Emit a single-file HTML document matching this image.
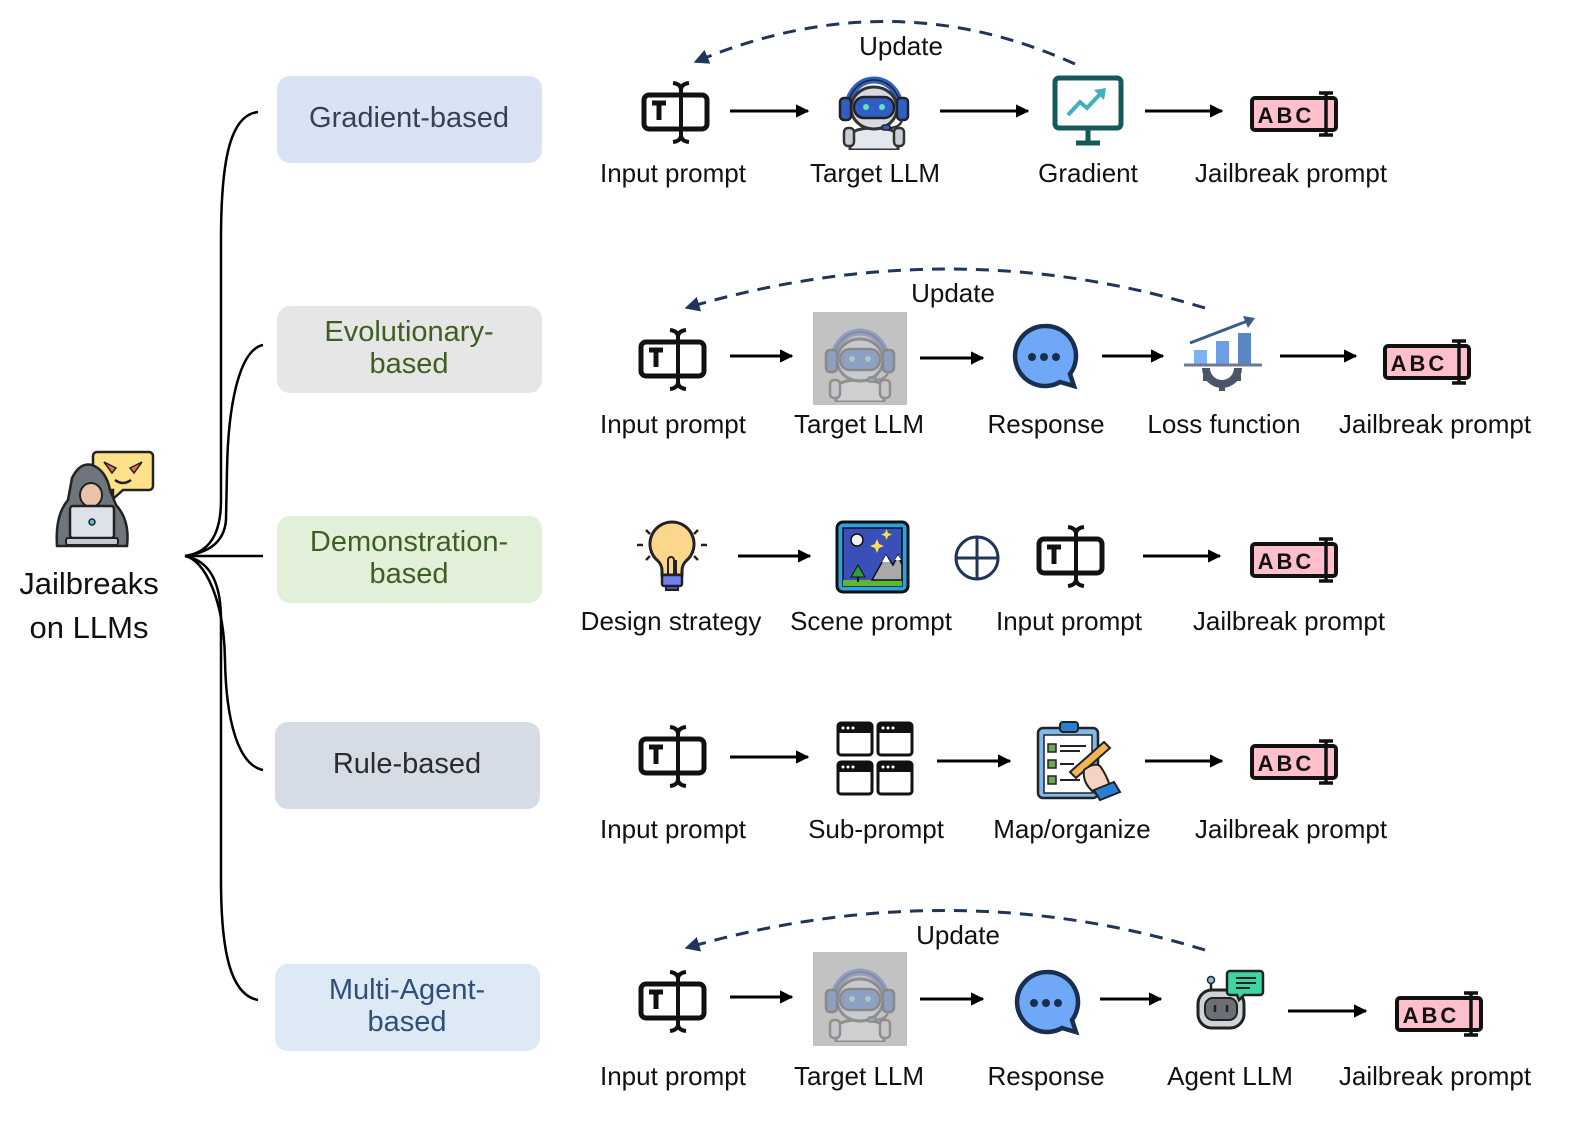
<!DOCTYPE html>
<html><head><meta charset="utf-8"><style>
html,body{margin:0;padding:0;background:#fff}
svg{display:block}
text{font-family:"Liberation Sans",sans-serif}
</style></head><body>
<svg width="1577" height="1122" viewBox="0 0 1577 1122" xmlns="http://www.w3.org/2000/svg">
<defs>
<marker id="ah" viewBox="0 0 10 10" refX="9" refY="5" markerWidth="4.5" markerHeight="4.5" orient="auto"><path d="M0,0 L10,5 L0,10 z" fill="#000"/></marker>
<marker id="dh" viewBox="0 0 10 10" refX="9" refY="5" markerWidth="5" markerHeight="5" orient="auto"><path d="M0,0 L10,5 L0,10 z" fill="#1f3559"/></marker>
<symbol id="inp" viewBox="0 0 70 66">
<rect x="3" y="16" width="63" height="34" rx="5" fill="#fff" stroke="#111" stroke-width="5"/>
<path d="M11,24 h14 M18,24 v17" stroke="#111" stroke-width="5" fill="none"/>
<path d="M40,9 V58 M32,4 Q40,5 40,11 Q40,5 48,4 M32,63 Q40,62 40,56 Q40,62 48,63" stroke="#111" stroke-width="4" fill="none"/>
</symbol>
<symbol id="bot" viewBox="0 0 76 84">
<path d="M12,42 A26,28 0 0 1 64,42" stroke="#2f5fc4" stroke-width="7" fill="none"/>
<path d="M12,42 A26,28 0 0 1 64,42" stroke="#222" stroke-width="1.5" fill="none"/>
<path d="M14,84 V72 Q14,62 38,62 Q62,62 62,72 V84 z" fill="#e3e7ee" stroke="#333" stroke-width="3"/>
<rect x="8" y="62" width="10" height="18" rx="4" fill="#c9ced6" stroke="#333" stroke-width="2.5"/>
<rect x="58" y="62" width="10" height="18" rx="4" fill="#c9ced6" stroke="#333" stroke-width="2.5"/>
<ellipse cx="38" cy="42" rx="23" ry="21" fill="#d6dbe3" stroke="#333" stroke-width="3"/>
<rect x="18" y="31" width="40" height="21" rx="10" fill="#2f5fc4" stroke="#222" stroke-width="2.5"/>
<circle cx="30" cy="41" r="3" fill="#5fe3c2"/><circle cx="46" cy="41" r="3" fill="#5fe3c2"/>
<rect x="4" y="32" width="11" height="22" rx="4" fill="#2f5fc4" stroke="#222" stroke-width="2.5"/>
<rect x="61" y="32" width="11" height="22" rx="4" fill="#2f5fc4" stroke="#222" stroke-width="2.5"/>
<path d="M66,54 Q64,62 52,62" stroke="#333" stroke-width="2.5" fill="none"/>
<rect x="46" y="59" width="8" height="5" rx="2" fill="#2f5fc4" stroke="#222" stroke-width="1.5"/>
</symbol>
<symbol id="bub" viewBox="0 0 70 70">
<path d="M35,4 A30,30 0 1 0 50,60 L64,64 L60,52 A30,30 0 0 0 35,4 z" fill="#6ea8f7" stroke="#1a2e4f" stroke-width="4.5"/>
<circle cx="22" cy="35" r="4" fill="#1a2e4f"/><circle cx="34" cy="35" r="4" fill="#1a2e4f"/><circle cx="46" cy="35" r="4" fill="#1a2e4f"/>
</symbol>
</defs>

<g>
<path d="M97,452 h52 a4,4 0 0 1 4,4 v30 a4,4 0 0 1 -4,4 h-26 l-10,9 v-9 h-16 a4,4 0 0 1 -4,-4 v-30 a4,4 0 0 1 4,-4z" fill="#fde28a" stroke="#222" stroke-width="2.5"/>
<path d="M104,462 l12,6 -4,5z M142,462 l-12,6 4,5z" fill="#f06b5c" stroke="#222" stroke-width="1.5"/>
<path d="M115,480 q8,6 16,0" stroke="#222" stroke-width="2.5" fill="none"/>
<path d="M57,546 Q55,515 68,500 L72,478 Q80,462 92,465 Q106,470 110,490 L116,505 Q130,520 127,546 z" fill="#6f757d" stroke="#222" stroke-width="2.5"/>
<ellipse cx="91" cy="495" rx="11" ry="12" fill="#e8c3a8" stroke="#222" stroke-width="2"/>
<rect x="70" y="506" width="44" height="32" rx="3" fill="#dde2ea" stroke="#222" stroke-width="2.5"/>
<circle cx="92" cy="522" r="3" fill="#4cc3e6" stroke="#222" stroke-width="1.5"/>
<rect x="66" y="538" width="52" height="7" rx="2" fill="#c5cad2" stroke="#222" stroke-width="2"/>
</g>
<text x="89" y="594" font-size="31" text-anchor="middle" fill="#111">Jailbreaks</text>
<text x="89" y="638" font-size="31" text-anchor="middle" fill="#111">on LLMs</text>

<g stroke="#000" stroke-width="2.5" fill="none">
<path d="M258,112 C230,115 221,160 221,240 L221,500 C221,540 205,553 185,556"/>
<path d="M263,345 C238,350 228,410 227,470 L226,520 C224,545 205,553 185,556"/>
<path d="M185,556 L263,556"/>
<path d="M263,770 C238,765 226,720 225,660 C224,600 205,560 185,556"/>
<path d="M258,1000 C230,995 221,950 221,880 L221,620 C221,575 205,560 185,556"/>
</g>

<rect x="277" y="76" width="265" height="87" rx="13" fill="#dae3f3"/>
<text x="409" y="127" font-size="29" text-anchor="middle" fill="#344252">Gradient-based</text>
<rect x="277" y="306" width="265" height="87" rx="13" fill="#e6e6e6"/>
<text x="409" y="341" font-size="29" text-anchor="middle" fill="#3f5f22">Evolutionary-</text>
<text x="409" y="373" font-size="29" text-anchor="middle" fill="#3f5f22">based</text>
<rect x="277" y="516" width="265" height="87" rx="13" fill="#e2f0d9"/>
<text x="409" y="551" font-size="29" text-anchor="middle" fill="#3f5f22">Demonstration-</text>
<text x="409" y="583" font-size="29" text-anchor="middle" fill="#3f5f22">based</text>
<rect x="275" y="722" width="265" height="87" rx="13" fill="#d6dce5"/>
<text x="407" y="773" font-size="29" text-anchor="middle" fill="#2b2b2b">Rule-based</text>
<rect x="275" y="964" width="265" height="87" rx="13" fill="#dde9f5"/>
<text x="407" y="999" font-size="29" text-anchor="middle" fill="#2d4f7c">Multi-Agent-</text>
<text x="407" y="1031" font-size="29" text-anchor="middle" fill="#2d4f7c">based</text>

<g stroke="#000" stroke-width="3" marker-end="url(#ah)">
<line x1="730" y1="111" x2="808" y2="111"/><line x1="940" y1="111" x2="1028" y2="111"/><line x1="1145" y1="111" x2="1222" y2="111"/>
<line x1="730" y1="356" x2="792" y2="356"/><line x1="920" y1="358" x2="983" y2="358"/><line x1="1102" y1="356" x2="1163" y2="356"/><line x1="1280" y1="356" x2="1356" y2="356"/>
<line x1="738" y1="556" x2="810" y2="556"/><line x1="1143" y1="556" x2="1220" y2="556"/>
<line x1="730" y1="757" x2="808" y2="757"/><line x1="937" y1="761" x2="1010" y2="761"/><line x1="1145" y1="761" x2="1222" y2="761"/>
<line x1="730" y1="997" x2="792" y2="997"/><line x1="920" y1="999" x2="983" y2="999"/><line x1="1100" y1="999" x2="1161" y2="999"/><line x1="1288" y1="1011" x2="1366" y2="1011"/>
</g>

<g stroke="#1f3559" stroke-width="3" fill="none" stroke-dasharray="13,9" marker-end="url(#dh)">
<path d="M1075,64 Q890,-20 695,62"/>
<path d="M1205,308 Q950,230 686,308"/>
<path d="M1205,950 Q950,872 686,948"/>
</g>
<g font-size="26" fill="#111" text-anchor="middle">
<text x="901" y="55">Update</text>
<text x="953" y="302">Update</text>
<text x="958" y="944">Update</text>
</g>

<use href="#inp" x="641" y="79" width="70" height="66"/>
<use href="#inp" x="638" y="326" width="70" height="66"/>
<use href="#inp" x="1036" y="523" width="70" height="66"/>
<use href="#inp" x="638" y="723" width="70" height="66"/>
<use href="#inp" x="638" y="968" width="70" height="66"/>

<use href="#bot" x="836" y="66" width="76" height="84"/>
<rect x="813" y="312" width="94" height="93" fill="#c2c2c2"/>
<use href="#bot" x="822" y="318" width="76" height="84" opacity="0.35"/>
<rect x="813" y="952" width="94" height="94" fill="#c2c2c2"/>
<use href="#bot" x="822" y="958" width="76" height="84" opacity="0.35"/>

<g>
<rect x="1055" y="78" width="66" height="50" rx="4" fill="#fff" stroke="#145a5a" stroke-width="5"/>
<path d="M1088,128 V142 M1076,143 h24" stroke="#145a5a" stroke-width="5"/>
<path d="M1068,115 L1080,102 L1087,108 L1102,92" stroke="#3fb3bd" stroke-width="4" fill="none"/>
<path d="M1094,90 L1106,88 L1104,100 z" fill="#3fb3bd"/>
</g>

<use href="#bub" x="1010" y="322" width="70" height="70"/>
<use href="#bub" x="1012" y="968" width="70" height="70"/>

<g>
<path d="M1190,343 L1250,320" stroke="#3b5a8a" stroke-width="3"/>
<path d="M1243,316 L1255,318 L1248,328 z" fill="#3b5a8a"/>
<rect x="1194" y="350" width="13" height="15" fill="#7fb2f5"/>
<rect x="1216" y="341" width="13" height="24" fill="#6b9ee6"/>
<rect x="1238" y="333" width="13" height="32" fill="#5a86c8"/>
<line x1="1184" y1="365" x2="1262" y2="365" stroke="#6b7a8e" stroke-width="3"/>
<path d="M1202,368 a20,20 0 0 0 40,0 h-8 a12,12 0 0 1 -24,0 z" fill="#4a5568"/>
<rect x="1203" y="375" width="6" height="6" fill="#4a5568"/><rect x="1235" y="375" width="6" height="6" fill="#4a5568"/><rect x="1219" y="384" width="6" height="7" fill="#4a5568"/>
</g>

<g>
<path d="M672,522 a22,22 0 0 1 14,39 q-4,4 -4,10 v4 h-20 v-4 q0,-6 -4,-10 a22,22 0 0 1 14,-39z" fill="#fcd68a" stroke="#222" stroke-width="3"/>
<path d="M668,574 v-14 a3,3 0 0 1 6,0 v14 M676,574 v-14" stroke="#222" stroke-width="2" fill="none"/>
<rect x="662" y="575" width="20" height="11" rx="2" fill="#6e7ff0" stroke="#222" stroke-width="2.5"/>
<path d="M666,586 h12 v4 h-12z" fill="#4a55b5" stroke="#222" stroke-width="2"/>
<g stroke="#222" stroke-width="2.5"><line x1="637" y1="545" x2="643" y2="545"/><line x1="701" y1="545" x2="707" y2="545"/><line x1="646" y1="530" x2="650" y2="534"/><line x1="698" y1="530" x2="694" y2="534"/><line x1="646" y1="560" x2="650" y2="556"/><line x1="698" y1="560" x2="694" y2="556"/></g>
</g>

<g>
<rect x="837" y="522" width="71" height="70" rx="6" fill="#2aa3e6" stroke="#111" stroke-width="3"/>
<rect x="843" y="528" width="59" height="58" fill="#3b4fb8" stroke="#111" stroke-width="1.5"/>
<rect x="843" y="580" width="59" height="6" fill="#5cb82e"/>
<path d="M872,580 L886,555 L893,565 L898,555 L902,565 V580z" fill="#a9a9a9" stroke="#111" stroke-width="1.5"/>
<path d="M882,562 L886,555 L890,562z M895,560 L898,555 L901,560z" fill="#fff"/>
<circle cx="857" cy="540" r="6" fill="#f0f0f0" stroke="#111" stroke-width="1.5"/>
<path d="M875,544 l2,-5 2,5 5,2 -5,2 -2,5 -2,-5 -5,-2z M885,533 l1.5,-4 1.5,4 4,1.5 -4,1.5 -1.5,4 -1.5,-4 -4,-1.5z" fill="#ffe24a"/>
<path d="M858,565 l-7,12 h14z" fill="#2e9e3a" stroke="#111" stroke-width="1"/><line x1="858" y1="577" x2="858" y2="582" stroke="#111" stroke-width="2"/>
</g>
<circle cx="977" cy="558" r="21" fill="none" stroke="#1f3559" stroke-width="3"/>
<path d="M956,558 h42 M977,537 v42" stroke="#1f3559" stroke-width="3"/>

<g fill="#fff" stroke="#111" stroke-width="3">
<rect x="838" y="723" width="34" height="32" rx="3"/><rect x="878" y="723" width="34" height="32" rx="3"/>
<rect x="838" y="762" width="34" height="32" rx="3"/><rect x="878" y="762" width="34" height="32" rx="3"/>
</g>
<g fill="#111"><rect x="838" y="723" width="34" height="10"/><rect x="878" y="723" width="34" height="10"/><rect x="838" y="762" width="34" height="10"/><rect x="878" y="762" width="34" height="10"/></g>
<g fill="#fff"><circle cx="843" cy="728" r="1.5"/><circle cx="848" cy="728" r="1.5"/><circle cx="853" cy="728" r="1.5"/><circle cx="883" cy="728" r="1.5"/><circle cx="888" cy="728" r="1.5"/><circle cx="893" cy="728" r="1.5"/><circle cx="843" cy="767" r="1.5"/><circle cx="848" cy="767" r="1.5"/><circle cx="853" cy="767" r="1.5"/><circle cx="883" cy="767" r="1.5"/><circle cx="888" cy="767" r="1.5"/><circle cx="893" cy="767" r="1.5"/></g>

<g>
<rect x="1038" y="728" width="60" height="70" rx="5" fill="#7fb8ef" stroke="#222" stroke-width="2.5"/>
<rect x="1044" y="735" width="48" height="58" fill="#fff" stroke="#222" stroke-width="1.5"/>
<rect x="1060" y="722" width="18" height="10" rx="3" fill="#2a7fd4" stroke="#222" stroke-width="2"/>
<g fill="#6aa84f" stroke="#222" stroke-width="1.5"><rect x="1048" y="744" width="8" height="8"/><rect x="1048" y="760" width="8" height="8"/><rect x="1048" y="776" width="8" height="8"/></g>
<g stroke="#222" stroke-width="2"><line x1="1060" y1="746" x2="1086" y2="746"/><line x1="1060" y1="751" x2="1080" y2="751"/><line x1="1060" y1="764" x2="1074" y2="764"/><line x1="1060" y1="780" x2="1080" y2="780"/></g>
<path d="M1070,772 L1104,742 L1110,748 L1076,778 z" fill="#f2b455" stroke="#222" stroke-width="2"/>
<path d="M1084,770 q10,-8 16,-4 q6,8 10,20 l-14,8 q-14,-10 -12,-24z" fill="#f6d2c2" stroke="#222" stroke-width="2"/>
<path d="M1094,790 l20,-8 6,10 -20,8z" fill="#2a7fd4" stroke="#222" stroke-width="2"/>
</g>

<g>
<line x1="1211" y1="982" x2="1211" y2="990" stroke="#222" stroke-width="2.5"/>
<circle cx="1211" cy="980" r="3.5" fill="#7fc7e8" stroke="#222" stroke-width="1.5"/>
<rect x="1198" y="990" width="46" height="38" rx="14" fill="#cfd3d8" stroke="#222" stroke-width="3"/>
<rect x="1205" y="998" width="32" height="22" rx="8" fill="#6b6f76" stroke="#222" stroke-width="2"/>
<line x1="1215" y1="1005" x2="1215" y2="1012" stroke="#222" stroke-width="2.5"/><line x1="1227" y1="1005" x2="1227" y2="1012" stroke="#222" stroke-width="2.5"/>
<path d="M1230,971 h30 a3,3 0 0 1 3,3 v18 a3,3 0 0 1 -3,3 h-16 l-5,5 -2,-5 h-7 a3,3 0 0 1 -3,-3 v-18 a3,3 0 0 1 3,-3z" fill="#3ed6a0" stroke="#222" stroke-width="2.5"/>
<g stroke="#222" stroke-width="2"><line x1="1236" y1="978" x2="1256" y2="978"/><line x1="1236" y1="983" x2="1256" y2="983"/><line x1="1236" y1="988" x2="1250" y2="988"/></g>
</g>

<g transform="translate(1250,90)">
<rect x="2" y="8" width="84" height="32" rx="3" fill="#ffc0cb" stroke="#111" stroke-width="4"/>
<text x="36" y="33" font-size="22" font-weight="bold" text-anchor="middle" fill="#111" letter-spacing="3">ABC</text>
<path d="M76,4 V44 M69,3 h14 M69,45 h14" stroke="#111" stroke-width="3.5"/>
</g>
<g transform="translate(1383,338)">
<rect x="2" y="8" width="84" height="32" rx="3" fill="#ffc0cb" stroke="#111" stroke-width="4"/>
<text x="36" y="33" font-size="22" font-weight="bold" text-anchor="middle" fill="#111" letter-spacing="3">ABC</text>
<path d="M76,4 V44 M69,3 h14 M69,45 h14" stroke="#111" stroke-width="3.5"/>
</g>
<g transform="translate(1250,536)">
<rect x="2" y="8" width="84" height="32" rx="3" fill="#ffc0cb" stroke="#111" stroke-width="4"/>
<text x="36" y="33" font-size="22" font-weight="bold" text-anchor="middle" fill="#111" letter-spacing="3">ABC</text>
<path d="M76,4 V44 M69,3 h14 M69,45 h14" stroke="#111" stroke-width="3.5"/>
</g>
<g transform="translate(1250,738)">
<rect x="2" y="8" width="84" height="32" rx="3" fill="#ffc0cb" stroke="#111" stroke-width="4"/>
<text x="36" y="33" font-size="22" font-weight="bold" text-anchor="middle" fill="#111" letter-spacing="3">ABC</text>
<path d="M76,4 V44 M69,3 h14 M69,45 h14" stroke="#111" stroke-width="3.5"/>
</g>
<g transform="translate(1395,990)">
<rect x="2" y="8" width="84" height="32" rx="3" fill="#ffc0cb" stroke="#111" stroke-width="4"/>
<text x="36" y="33" font-size="22" font-weight="bold" text-anchor="middle" fill="#111" letter-spacing="3">ABC</text>
<path d="M76,4 V44 M69,3 h14 M69,45 h14" stroke="#111" stroke-width="3.5"/>
</g>

<g font-size="26" fill="#111" text-anchor="middle">
<text x="673" y="182">Input prompt</text><text x="875" y="182">Target  LLM</text><text x="1088" y="182">Gradient</text><text x="1291" y="182">Jailbreak prompt</text>
<text x="673" y="433">Input prompt</text><text x="859" y="433">Target  LLM</text><text x="1046" y="433">Response</text><text x="1224" y="433">Loss function</text><text x="1435" y="433">Jailbreak prompt</text>
<text x="671" y="630">Design strategy</text><text x="871" y="630">Scene prompt</text><text x="1069" y="630">Input prompt</text><text x="1289" y="630">Jailbreak prompt</text>
<text x="673" y="838">Input prompt</text><text x="876" y="838">Sub-prompt</text><text x="1072" y="838">Map/organize</text><text x="1291" y="838">Jailbreak prompt</text>
<text x="673" y="1085">Input prompt</text><text x="859" y="1085">Target  LLM</text><text x="1046" y="1085">Response</text><text x="1230" y="1085">Agent LLM</text><text x="1435" y="1085">Jailbreak prompt</text>
</g>
</svg>
</body></html>
